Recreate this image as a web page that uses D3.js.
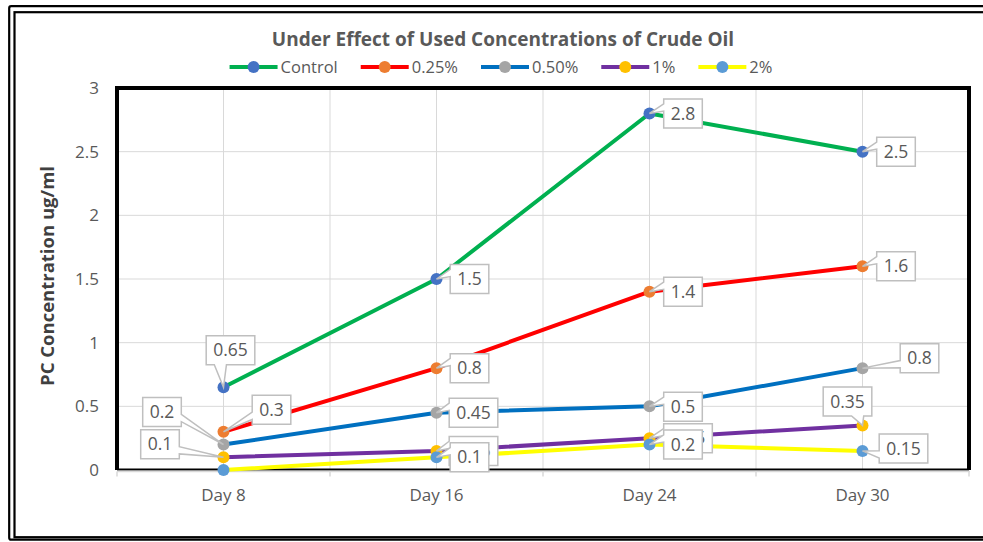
<!DOCTYPE html>
<html lang="en">
<head>
<meta charset="UTF-8">
<title>PC Concentration</title>
<script src="https://cdn.jsdelivr.net/npm/d3@7/dist/d3.min.js"></script>
<style>
  body { margin: 0; background: #fff; }
  svg { display: block; font-family: 'Open Sans', sans-serif; }
</style>
</head>
<body>
<div id="chart"></div>
<script>
// data
const days = ['Day 8', 'Day 16', 'Day 24', 'Day 30'];
const seriesNames = ['Control', '0.25%', '0.50%', '1%', '2%'];
const control = [0.65, 1.5, 2.8, 2.5];
const conc025 = [0.3, 0.8, 1.4, 1.6];
const conc050 = [0.2, 0.45, 0.5, 0.8];
const conc1 = [0.1, 0.15, 0.25, 0.35];
const conc2 = [0, 0.1, 0.2, 0.15];
const yTicks = [0, 0.5, 1, 1.5, 2, 2.5, 3];

// styles
const lineColors = ['#00b050', '#ff0000', '#0070c0', '#7030a0', '#ffff00'];
const markerColors = ['#4472c4', '#ed7d31', '#a5a5a5', '#ffc000', '#5b9bd5'];
// label box centre offset from its point (px), null = no label
const labelPos = [
    [[7, -37], [33, 0], [33.5, 0], [33.5, 0]],
    [[48, -22], [33, 0], [33.5, 0], [33.5, 0]],
    [[-61.5, -32.5], [37, 0], [33.5, 0.5], [57, -10]],
    [[-63.5, -13], [37, 0], [38.5, 0], [-15, -24]],
    [null, [33, 0], [33.5, 0], [41, -2.5]]
];

const series = [control, conc025, conc050, conc1, conc2];

const width = 983;
const height = 542;
const plot = { left: 117, right: 969, top: 88, bottom: 470 };

const svg = d3.select('#chart').append('svg')
    .attr('width', width)
    .attr('height', height);

// outer double frame
svg.append('rect').attr('x', 9.2).attr('y', 6.2).attr('width', 1100).attr('height', 533.5)
    .attr('rx', 2).attr('fill', 'none').attr('stroke', '#000').attr('stroke-width', 2.2);
svg.append('rect').attr('x', 14.5).attr('y', 12.2).attr('width', 1100).attr('height', 525)
    .attr('fill', 'none').attr('stroke', '#000').attr('stroke-width', 2.2);

const x = d3.scalePoint().domain(days).range([plot.left, plot.right]).padding(0.5);
const y = d3.scaleLinear().domain([0, 3]).range([plot.bottom, plot.top]);
const step = x.step();

// gridlines
const vGrid = [];
days.forEach(d => { vGrid.push(x(d) - step / 2); vGrid.push(x(d)); });
svg.append('g').selectAll('line').data(vGrid.slice(1)).enter().append('line')
    .attr('x1', d => d).attr('x2', d => d)
    .attr('y1', plot.top).attr('y2', plot.bottom)
    .attr('stroke', '#d9d9d9').attr('stroke-width', 1);
svg.append('g').selectAll('line').data(yTicks.slice(1, -1)).enter().append('line')
    .attr('x1', plot.left).attr('x2', plot.right)
    .attr('y1', d => y(d)).attr('y2', d => y(d))
    .attr('stroke', '#d9d9d9').attr('stroke-width', 1);

// plot area border
svg.append('path')
    .attr('d', `M${plot.left},${plot.bottom} V${plot.top} H${plot.right} V${plot.bottom}`)
    .attr('fill', 'none').attr('stroke', '#000').attr('stroke-width', 4);
svg.append('line').attr('x1', plot.left).attr('x2', plot.right)
    .attr('y1', plot.bottom - 0.5).attr('y2', plot.bottom - 0.5)
    .attr('stroke', '#000').attr('stroke-width', 2);

// x axis
const xAxis = svg.append('g').attr('transform', `translate(0,${plot.bottom + 1.5})`);
xAxis.append('line').attr('x1', plot.left).attr('x2', plot.right + 1)
    .attr('stroke', '#d9d9d9').attr('stroke-width', 1.5);
const xTicks = days.map(d => x(d) - step / 2).concat([plot.right]);
xAxis.selectAll('.tk').data(xTicks).enter().append('line')
    .attr('x1', d => d).attr('x2', d => d).attr('y1', 0).attr('y2', 5)
    .attr('stroke', '#d9d9d9').attr('stroke-width', 1.5);
xAxis.selectAll('text').data(days).enter().append('text')
    .attr('x', d => x(d)).attr('y', 29)
    .attr('text-anchor', 'middle')
    .attr('fill', '#595959').attr('font-size', 17)
    .text(d => d);

// y axis labels
svg.append('g').selectAll('text').data(yTicks).enter().append('text')
    .attr('x', 99).attr('y', d => y(d)).attr('dy', '0.35em')
    .attr('text-anchor', 'end')
    .attr('fill', '#595959').attr('font-size', 17)
    .text(d => d);

svg.append('text')
    .attr('transform', 'translate(54,276) rotate(-90)')
    .attr('text-anchor', 'middle')
    .attr('fill', '#404040').attr('font-size', 18.5).attr('font-weight', 'bold')
    .text('PC Concentration ug/ml');

// title
svg.append('text')
    .attr('x', 503).attr('y', 46)
    .attr('text-anchor', 'middle')
    .attr('fill', '#595959').attr('font-size', 19).attr('font-weight', 'bold')
    .text('Under Effect of Used Concentrations of Crude Oil');

// series lines and markers
const line = d3.line().x((d, i) => x(days[i])).y(d => y(d));
series.forEach((vals, s) => {
    const g = svg.append('g');
    g.append('path').attr('d', line(vals))
        .attr('fill', 'none').attr('stroke', lineColors[s])
        .attr('stroke-width', 4).attr('stroke-linejoin', 'round');
    g.selectAll('circle').data(vals).enter().append('circle')
        .attr('cx', (d, i) => x(days[i])).attr('cy', d => y(d))
        .attr('r', 6).attr('fill', markerColors[s]);
});

// excel-like wedge callout
function calloutPath(l, t, w, h, px, py) {
    const r = l + w, b = t + h, hc = l + w / 2, vc = t + h / 2;
    const dx = px - hc, dy = py - vc;
    const dz = Math.abs(dy) - Math.abs(dx * h / w);
    const x1 = l + w * (dx > 0 ? 7 : 2) / 12, x2 = l + w * (dx > 0 ? 10 : 5) / 12;
    const y1 = t + h * (dy > 0 ? 7 : 2) / 12, y2 = t + h * (dy > 0 ? 10 : 5) / 12;
    const xl = dz > 0 ? l : (dx > 0 ? l : px);
    const yl = dz > 0 ? y1 : (dx > 0 ? y1 : py);
    const xt = dz > 0 ? (dy > 0 ? x1 : px) : x1;
    const yt = dz > 0 ? (dy > 0 ? t : py) : t;
    const xr = dz > 0 ? r : (dx > 0 ? px : r);
    const yr = dz > 0 ? y1 : (dx > 0 ? py : y1);
    const xb = dz > 0 ? (dy > 0 ? px : x1) : x1;
    const yb = dz > 0 ? (dy > 0 ? py : b) : b;
    return `M${l},${t}L${x1},${t}L${xt},${yt}L${x2},${t}L${r},${t}L${r},${y1}L${xr},${yr}L${r},${y2}` +
        `L${r},${b}L${x2},${b}L${xb},${yb}L${x1},${b}L${l},${b}L${l},${y2}L${xl},${yl}L${l},${y1}Z`;
}

// data labels
const labels = svg.append('g');
series.forEach((vals, s) => {
    vals.forEach((v, i) => {
        const pos = labelPos[s][i];
        if (!pos) return;
        const px = x(days[i]), py = y(v);
        const cx = px + pos[0], cy = py + pos[1];
        const g = labels.append('g');
        const path = g.append('path');
        const txt = g.append('text')
            .attr('x', cx).attr('y', cy).attr('dy', '0.35em')
            .attr('text-anchor', 'middle')
            .attr('fill', '#595959').attr('font-size', 17.5)
            .text(String(v));
        const w = txt.node().getComputedTextLength() + 14, h = 29;
        path.attr('d', calloutPath(cx - w / 2, cy - h / 2, w, h, px, py))
            .attr('fill', '#fff').attr('stroke', '#bfbfbf').attr('stroke-width', 1.5);
    });
});

// legend
const legend = svg.append('g');
let lx = 0;
seriesNames.forEach((name, s) => {
    const g = legend.append('g').attr('transform', `translate(${lx},0)`);
    g.append('line').attr('x1', 0).attr('x2', 48).attr('y1', 0).attr('y2', 0)
        .attr('stroke', lineColors[s]).attr('stroke-width', 4);
    g.append('circle').attr('cx', 24).attr('cy', 0).attr('r', 6).attr('fill', markerColors[s]);
    const t = g.append('text').attr('x', 51).attr('dy', '0.35em')
        .attr('fill', '#595959').attr('font-size', 16.5).text(name);
    lx += 51 + t.node().getComputedTextLength() + 23;
});
lx -= 23;
legend.attr('transform', `translate(${501 - lx / 2},67)`);
</script>
</body>
</html>
